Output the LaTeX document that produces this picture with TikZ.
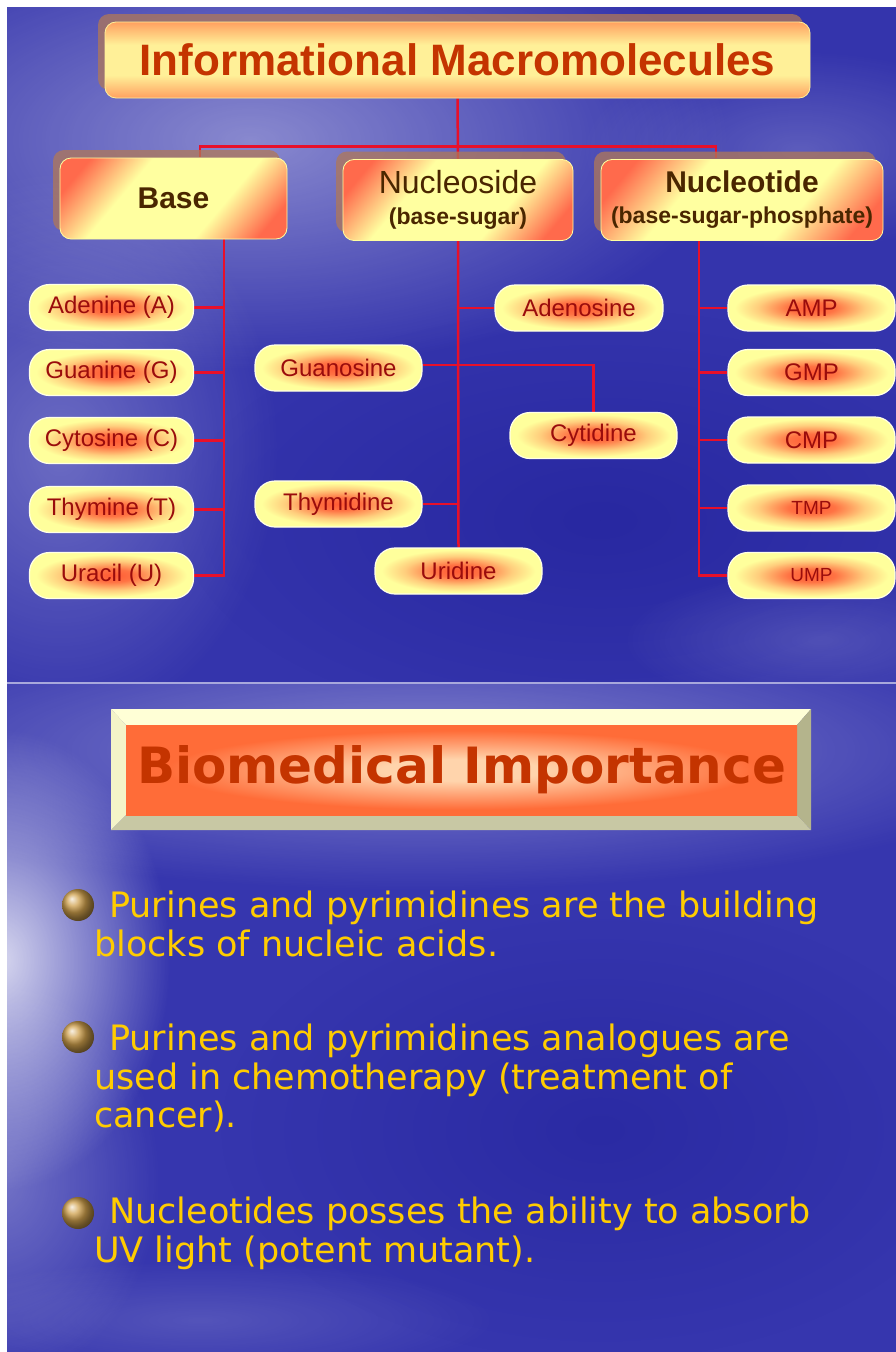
\documentclass[tikz,border=0pt]{standalone}
\usepackage{fontspec}
\setmainfont{Liberation Sans}
\newfontfamily\dvs{DejaVu Sans}
\usetikzlibrary{calc,fadings,shadows}

\definecolor{bgone}{HTML}{3434AC}
\definecolor{bgtwo}{HTML}{3636AE}
\definecolor{bgdeep}{HTML}{1C1C96}
\definecolor{linered}{HTML}{E8102A}
\definecolor{pilly}{HTML}{FFFF9C}
\definecolor{pillg}{HTML}{FF5A34}
\definecolor{pillbd}{HTML}{FFFFE6}
\definecolor{pilltxt}{HTML}{9A0C0C}
\definecolor{boxr}{HTML}{FF6A4C}
\definecolor{boxy}{HTML}{FFFFA0}
\definecolor{titor}{HTML}{FFA060}
\definecolor{tity}{HTML}{FFF098}
\definecolor{titletxt}{HTML}{C43400}
\definecolor{cattxt}{HTML}{4A2600}
\definecolor{shadowc}{HTML}{B07858}
\definecolor{bevlight}{HTML}{FFFFD6}
\definecolor{bevleft}{HTML}{F4F4C8}
\definecolor{bevright}{HTML}{B4B48C}
\definecolor{bevbottom}{HTML}{C8C8A4}
\definecolor{panelo}{HTML}{FF6C38}
\definecolor{panelc}{HTML}{FFD4AC}
\definecolor{bultxt}{HTML}{FFCC00}
\definecolor{ballc}{HTML}{CFA04C}
\definecolor{sepc}{HTML}{A8A8DC}

\pgfdeclareradialshading{pillglow}{\pgfpoint{0bp}{0bp}}{color(0bp)=(pillg); color(7bp)=(pillg!85!pilly); color(16bp)=(pillg!30!pilly); color(23bp)=(pilly); color(50bp)=(pilly)}
\pgfdeclarehorizontalshading{catshade}{100bp}{color(0bp)=(boxr); color(22bp)=(boxr); color(37bp)=(boxy); color(63bp)=(boxy); color(78bp)=(boxr); color(100bp)=(boxr)}
\pgfdeclareverticalshading{titshade}{100bp}{color(0bp)=(titor); color(25bp)=(titor); color(40bp)=(tity); color(60bp)=(tity); color(75bp)=(titor); color(100bp)=(titor)}
\pgfdeclareradialshading{panelshade}{\pgfpoint{0bp}{0bp}}{color(0bp)=(panelc); color(6bp)=(panelc); color(22bp)=(panelo); color(50bp)=(panelo)}

\tikzfading[name=softglow, inner color=transparent!0, outer color=transparent!100]

\pgfdeclarelayer{bgl}
\pgfdeclarelayer{lnl}
\pgfsetlayers{bgl,lnl,main}

\begin{document}
\begin{tikzpicture}[x=1pt,y=-1pt,
  conn/.style={draw=linered, line width=2.5pt},
  boxshadow/.style={drop shadow={shadow xshift=-7pt, shadow yshift=8pt, opacity=.75, fill=shadowc}},
  titlebox/.style={shade, shading=titshade, rounded corners=11pt, minimum width=705pt,
    minimum height=76pt, inner sep=0pt, draw=tity, line width=.8pt, text=titletxt,
    font=\bfseries\fontsize{44}{44}\selectfont, boxshadow},
  catbox/.style={shade, shading=catshade, shading angle=-40, rounded corners=11pt,
    minimum height=81pt, inner sep=0pt, draw=boxy, line width=.8pt, text=cattxt,
    align=center, boxshadow},
  pill/.style={shade, shading=pillglow, rounded corners=20pt, minimum width=165pt,
    minimum height=46pt, inner sep=0pt, draw=pillbd, line width=1.2pt, text=pilltxt,
    font=\fontsize{24}{24}\selectfont},
  smallpill/.style={pill, font=\fontsize{19}{19}\selectfont},
  bullettext/.style={anchor=north west, inner sep=0pt, align=left, text=bultxt,
    font=\dvs\fontsize{35}{38.5}\selectfont},
  bulletball/.style={circle, shading=ball, ball color=ballc, minimum size=32pt, inner sep=0pt}
]
\useasboundingbox (0,0) rectangle (896,1352);

% ---------- backgrounds ----------
\begin{pgfonlayer}{bgl}
  \fill[white] (0,0) rectangle (896,1352);
  \begin{scope}
    \clip (7,7) rectangle (896,683);
    \fill[bgone] (7,7) rectangle (896,683);
    \fill[white, opacity=.42, path fading=softglow] (250,140) ellipse (480 and 230);
    \fill[white, opacity=.28, path fading=softglow] (60,450) ellipse (220 and 280);
    \fill[white, opacity=.2, path fading=softglow] (800,150) ellipse (220 and 100);
    \fill[bgdeep, opacity=.5, path fading=softglow] (600,520) ellipse (420 and 210);
    \fill[white, opacity=.15, path fading=softglow] (820,640) ellipse (200 and 70);
  \end{scope}
  \begin{scope}
    \clip (7,683) rectangle (896,1352);
    \fill[bgtwo] (7,683) rectangle (896,1352);
    \fill[white, opacity=.38, path fading=softglow] (420,750) ellipse (640 and 140);
    \fill[white, opacity=.8, path fading=softglow] (0,960) ellipse (170 and 230);
    \fill[white, opacity=.3, path fading=softglow] (0,1180) ellipse (160 and 200);
    \fill[bgdeep, opacity=.45, path fading=softglow] (600,1130) ellipse (380 and 230);
    \fill[white, opacity=.15, path fading=softglow] (200,1320) ellipse (300 and 60);
  \end{scope}
  \draw[sepc, line width=1.5pt] (7,683) -- (896,683);
\end{pgfonlayer}

% ---------- slide 1: tree ----------
\node[titlebox] (title) at (457.5,60) {Informational Macromolecules};

\node[catbox, minimum width=227pt, font=\bfseries\fontsize{30}{30}\selectfont] (base) at (173.5,198.5) {Base};
\node[catbox, minimum width=230pt, font=\fontsize{23}{31}\selectfont] (nucleoside) at (458,200)
  {{\fontsize{32}{32}\selectfont Nucleoside}\\{\bfseries (base-sugar)}};
\node[catbox, minimum width=282pt, font=\bfseries\fontsize{23}{31}\selectfont] (nucleotide) at (742,200)
  {{\fontsize{30}{30}\selectfont Nucleotide}\\(base-sugar-phosphate)};

\node[pill, minimum width=164pt] (adenine)  at (111.5,307.5) {Adenine (A)};
\node[pill, minimum width=164pt] (guanine)  at (111.5,372.5) {Guanine (G)};
\node[pill, minimum width=164pt] (cytosine) at (111.5,440.5) {Cytosine (C)};
\node[pill, minimum width=164pt] (thymine)  at (111.5,509.5) {Thymine (T)};
\node[pill, minimum width=164pt] (uracil)   at (111.5,575.5) {Uracil (U)};

\node[pill, minimum width=168pt] (adenosine) at (579,308)   {Adenosine};
\node[pill, minimum width=167pt] (guanosine) at (338.5,368) {Guanosine};
\node[pill, minimum width=167pt] (cytidine)  at (593.5,435.5) {Cytidine};
\node[pill, minimum width=167pt] (thymidine) at (338.5,504) {Thymidine};
\node[pill, minimum width=167pt] (uridine)   at (458.5,571) {Uridine};

\node[pill, minimum width=167pt] (amp) at (811.5,308)   {AMP};
\node[pill, minimum width=167pt] (gmp) at (811.5,372.5) {GMP};
\node[pill, minimum width=167pt] (cmp) at (811.5,440)   {CMP};
\node[smallpill, minimum width=167pt] (tmp) at (811.5,508)   {TMP};
\node[smallpill, minimum width=167pt] (ump) at (811.5,575.5) {UMP};

\coordinate (bstem) at ($(base.south)+(50.5,0)$);
\coordinate (tstem) at ($(nucleotide.south)+(-43,0)$);
\coordinate (barleft) at ($(base.north)+(26.5,-1)$);
\coordinate (barright) at ($(nucleotide.north)+(-26,-1)$);

\begin{pgfonlayer}{lnl}
  \draw[conn] (title.south) -- (nucleoside.north);
  \draw[conn] (barleft) -- ++(0,-10) -| (barright);
  % bases
  \draw[conn] (bstem) |- (uracil.east);
  \draw[conn] (adenine.east)  -- (adenine.east -| bstem);
  \draw[conn] (guanine.east)  -- (guanine.east -| bstem);
  \draw[conn] (cytosine.east) -- (cytosine.east -| bstem);
  \draw[conn] (thymine.east)  -- (thymine.east -| bstem);
  % nucleosides
  \draw[conn] (nucleoside.south) -- (uridine.north);
  \draw[conn] (adenosine.west) -- (adenosine.west -| nucleoside.south);
  \draw[conn] ($(guanosine.east)+(0,-3)$) -| (cytidine.north);
  \draw[conn] (thymidine.east) -- (thymidine.east -| nucleoside.south);
  % nucleotides
  \draw[conn] (tstem) |- (ump.west);
  \draw[conn] (amp.west) -- (amp.west -| tstem);
  \draw[conn] (gmp.west) -- (gmp.west -| tstem);
  \draw[conn] (cmp.west) -- (cmp.west -| tstem);
  \draw[conn] (tmp.west) -- (tmp.west -| tstem);
\end{pgfonlayer}

% ---------- slide 2 ----------
\fill[bevlight]  (111,709) -- (811,709) -- (797,725) -- (126,725) -- cycle;
\fill[bevleft]   (111,709) -- (126,725) -- (126,815) -- (111,830) -- cycle;
\fill[bevright]  (811,709) -- (811,830) -- (797,815) -- (797,725) -- cycle;
\fill[bevbottom] (111,830) -- (811,830) -- (797,815) -- (126,815) -- cycle;
\node[shade, shading=panelshade, minimum width=671pt, minimum height=90pt, inner sep=0pt,
  text=titletxt, font=\dvs\bfseries\fontsize{50}{50}\selectfont] (bio) at (461.5,770) {Biomedical Importance};

\node[bulletball] (ball1) at (78,905) {};
\node[bulletball] (ball2) at (78,1037) {};
\node[bulletball] (ball3) at (78,1213) {};

\node[bullettext] (item1) at (94,891)
  {\hspace*{15pt}Purines and pyrimidines are the building\\blocks of nucleic acids.};
\node[bullettext] (item2) at (94,1024)
  {\hspace*{15pt}Purines and pyrimidines analogues are\\used in chemotherapy (treatment of\\cancer).};
\node[bullettext] (item3) at (94,1197)
  {\hspace*{15pt}Nucleotides posses the ability to absorb\\UV light (potent mutant).};
\end{tikzpicture}
\end{document}
